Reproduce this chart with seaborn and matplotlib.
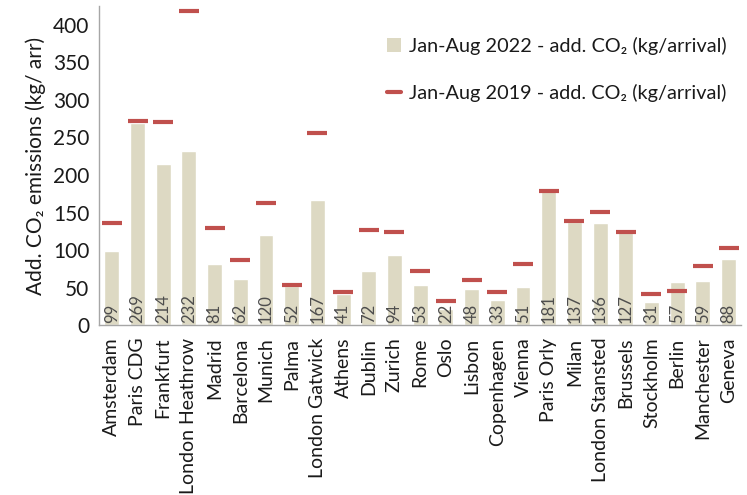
import matplotlib
matplotlib.use("Agg")
import matplotlib.pyplot as plt
import seaborn as sns
import pandas as pd
from matplotlib.patches import Patch
from matplotlib.lines import Line2D
from matplotlib.ticker import FixedLocator, MultipleLocator

# values
airports = ["Amsterdam", "Paris CDG", "Frankfurt", "London Heathrow", "Madrid",
            "Barcelona", "Munich", "Palma", "London Gatwick", "Athens", "Dublin",
            "Zurich", "Rome", "Oslo", "Lisbon", "Copenhagen", "Vienna", "Paris Orly",
            "Milan", "London Stansted", "Brussels", "Stockholm", "Berlin",
            "Manchester", "Geneva"]
co2_2022 = [99, 269, 214, 232, 81, 62, 120, 52, 167, 41, 72, 94, 53, 22, 48, 33,
            51, 181, 137, 136, 127, 31, 57, 59, 88]
co2_2019 = [136, 272, 271, 418, 129, 87, 163, 54, 256, 44, 127, 124, 72, 32, 60,
            44, 81, 178, 139, 151, 124, 42, 45, 79, 103]

label_2022 = "Jan-Aug 2022 - add. CO\u2082 (kg/arrival)"
label_2019 = "Jan-Aug 2019 - add. CO\u2082 (kg/arrival)"

bar_color = "#DDD9C3"
dash_color = "#C0504D"
text_color = "#1A1A1A"

sns.set_style("white")
plt.rcParams["font.family"] = ["Lato", "DejaVu Sans"]

df = pd.DataFrame({"airport": airports, "y2022": co2_2022, "y2019": co2_2019})

fig = plt.figure(figsize=(7.47, 4.95), dpi=100)
ax = fig.add_axes([0.1325, 0.343, 0.86, 0.645])

sns.barplot(data=df, x="airport", y="y2022", color=bar_color, width=0.58,
            saturation=1, ax=ax)
ax.plot(range(len(airports)), df["y2019"], linestyle="none", marker="_",
        markersize=14.5, markeredgewidth=3.0, color=dash_color)

for i, v in enumerate(co2_2022):
    ax.text(i, 3, str(v), rotation=90, ha="center", va="bottom",
            fontsize=12, color="#4D4D4D")

ax.set_xlim(-0.5, len(airports) - 0.5)
ax.set_ylim(0, 425)
ax.yaxis.set_major_locator(FixedLocator(range(0, 401, 50)))
ax.tick_params(axis="y", length=0, labelsize=15, labelcolor=text_color, pad=7)
ax.tick_params(axis="x", which="major", length=0, labelsize=14,
               labelcolor=text_color, rotation=90, pad=9)
ax.xaxis.set_minor_locator(MultipleLocator(1, offset=0.5))
ax.tick_params(axis="x", which="minor", length=5, width=1, color="#A6A6A6",
               direction="out")

ax.set_xlabel("")
ax.set_ylabel("Add. CO\u2082 emissions (kg/ arr)", fontsize=15, color=text_color,
              labelpad=5)

for side in ["top", "right"]:
    ax.spines[side].set_visible(False)
for side in ["left", "bottom"]:
    ax.spines[side].set_color("#A6A6A6")
    ax.spines[side].set_linewidth(1)

handles = [Patch(facecolor=bar_color, edgecolor="none"),
           Line2D([], [], color=dash_color, linewidth=3, linestyle="-")]
leg = ax.legend(handles, [label_2022, label_2019], loc="upper left",
                bbox_to_anchor=(0.42, 0.96), frameon=False, fontsize=14.3,
                handlelength=0.7, handletextpad=0.4, labelspacing=1.45,
                labelcolor=text_color)

fig.savefig("out.png", dpi=100)
